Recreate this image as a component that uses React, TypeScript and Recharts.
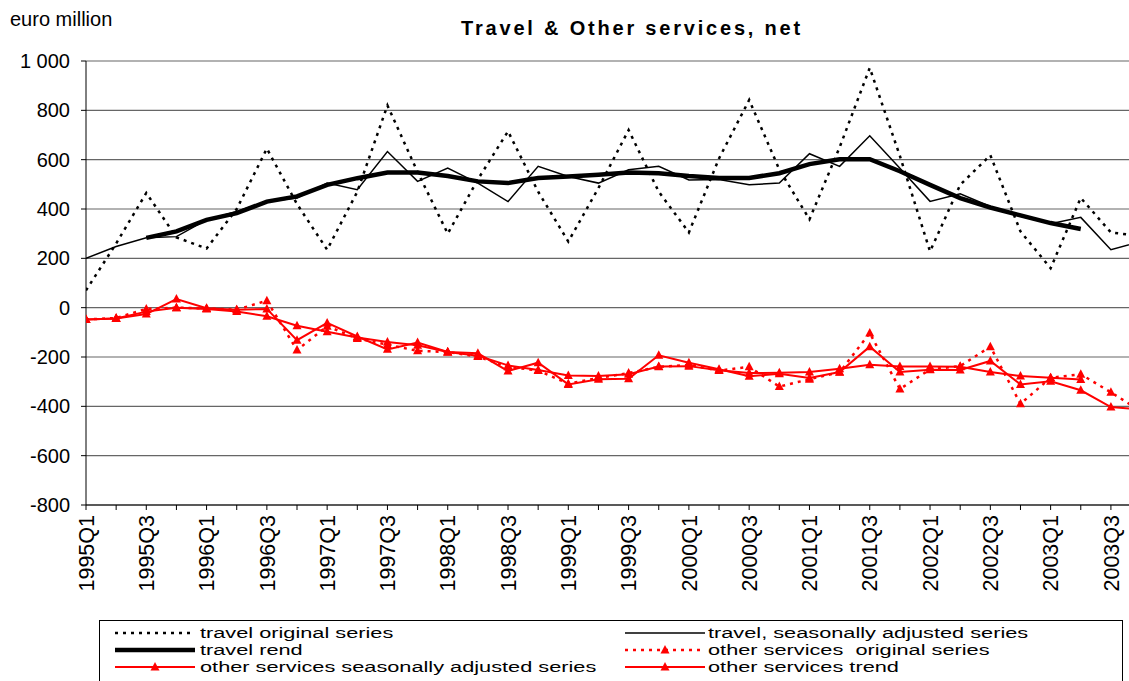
import { LineChart, Line, XAxis, YAxis, CartesianGrid } from 'recharts';

const quarters = [
  '1995Q1', '1995Q2', '1995Q3', '1995Q4', '1996Q1', '1996Q2', '1996Q3', '1996Q4',
  '1997Q1', '1997Q2', '1997Q3', '1997Q4', '1998Q1', '1998Q2', '1998Q3', '1998Q4',
  '1999Q1', '1999Q2', '1999Q3', '1999Q4', '2000Q1', '2000Q2', '2000Q3', '2000Q4',
  '2001Q1', '2001Q2', '2001Q3', '2001Q4', '2002Q1', '2002Q2', '2002Q3', '2002Q4',
  '2003Q1', '2003Q2', '2003Q3', '2003Q4',
];

const travelOriginal = [
  70, 260, 465, 285, 240, 400, 645, 420, 235, 470, 820, 550, 300, 520, 715, 470, 268, 485,
  720, 470, 305, 605, 842, 560, 358, 650, 972, 615, 228, 498, 618, 309, 160, 445, 305, 290,
];
const travelSA = [
  200, 248, 283, 288, 356, 390, 430, 445, 505, 478, 633, 512, 566, 505, 430, 573, 532, 505,
  559, 573, 518, 520, 498, 505, 624, 573, 697, 565, 431, 462, 410, 370, 340, 366, 235, 268,
];
const travelTrend = [
  null, null, 283, 309, 356, 383, 430, 451, 498, 525, 548, 548, 534, 512, 505, 526, 532, 539,
  548, 545, 534, 526, 526, 545, 582, 602, 602, 553, 498, 444, 406, 374, 343, 319, null, null,
];
const otherOriginal = [
  -48, -42, -5, 0, -3, -8, 28, -172, -75, -125, -150, -175, -180, -198, -240, -255, -308, -285,
  -265, -240, -232, -255, -240, -320, -290, -262, -103, -330, -250, -237, -158, -390, -284, -270,
  -343, -420,
];
const otherSA = [
  -48, -44, -26, 35, -2, -8, -5, -132, -62, -117, -169, -141, -180, -185, -257, -223, -311, -290,
  -288, -193, -223, -250, -278, -268, -285, -261, -158, -261, -252, -253, -216, -311, -298, -335,
  -403, -412,
];
const otherTrend = [
  -48, -44, -16, 0, -5, -16, -35, -73, -98, -121, -139, -152, -180, -195, -234, -253, -275, -277,
  -270, -239, -237, -254, -265, -264, -261, -248, -231, -239, -239, -240, -261, -277, -284, -291,
  null, null,
];

const yTicks = [-800, -600, -400, -200, 0, 200, 400, 600, 800, 1000];
const xTicks = quarters.slice(0, 35).map((_, i) => i);

const data = quarters.map((q, i) => ({
  i,
  q,
  travelOriginal: travelOriginal[i],
  travelSA: travelSA[i],
  travelTrend: travelTrend[i],
  otherOriginal: otherOriginal[i],
  otherSA: otherSA[i],
  otherTrend: otherTrend[i],
}));

const FONT = 'Arial, "Liberation Sans", sans-serif';
const RED = '#ff0000';

const triPath = (cx: number, cy: number) =>
  `M${cx},${cy - 5}L${cx + 4.5},${cy + 3.5}L${cx - 4.5},${cy + 3.5}Z`;

const TriangleDot = (props: any) => {
  const { cx, cy, index, dataKey } = props;
  const key = `${dataKey}-${index}`;
  if (cx == null || cy == null) return <g key={key} />;
  return <path key={key} d={triPath(cx, cy)} fill={RED} />;
};

const QuarterTick = ({ x, y, payload }: any) => {
  const idx = payload.value;
  if (idx % 2 !== 0) return <g />;
  return (
    <text
      x={x}
      y={y}
      transform={`rotate(-90 ${x} ${y})`}
      textAnchor="end"
      dy="0.36em"
      fontSize={21.5}
      fontFamily={FONT}
      fill="#000"
    >
      {quarters[idx]}
    </text>
  );
};

const legendLeft = [
  { label: 'travel original series', color: '#000', width: 2.5, dash: '3 5', tri: false },
  { label: 'travel rend', color: '#000', width: 4.5, dash: undefined, tri: false },
  { label: 'other services seasonally adjusted series', color: RED, width: 2, dash: undefined, tri: true },
];
const legendRight = [
  { label: 'travel, seasonally adjusted series', color: '#000', width: 1.5, dash: undefined, tri: false },
  { label: 'other services  original series', color: RED, width: 2.5, dash: '3 5', tri: true },
  { label: 'other services trend', color: RED, width: 2, dash: undefined, tri: true },
];

// legend text in the source is stretched sideways; small font scaled in x
const LegendBox = () => {
  const rows = [633, 650, 667];
  const col = (items: typeof legendLeft, x0: number, x1: number, tx: number) =>
    items.map((it, k) => (
      <g key={it.label}>
        <line
          x1={x0}
          x2={x1}
          y1={rows[k]}
          y2={rows[k]}
          stroke={it.color}
          strokeWidth={it.width}
          strokeDasharray={it.dash}
        />
        {it.tri && <path d={triPath((x0 + x1) / 2, rows[k])} fill={RED} />}
        <text
          transform={`translate(${tx} ${rows[k]}) scale(1.45 1)`}
          x={0}
          y={0}
          dy="0.36em"
          fontSize={15}
          fontFamily={FONT}
          fill="#000"
          style={{ whiteSpace: 'pre' }}
        >
          {it.label}
        </text>
      </g>
    ));
  return (
    <svg
      width={1129}
      height={681}
      style={{ position: 'absolute', left: 0, top: 0, pointerEvents: 'none' }}
    >
      <rect x={99.5} y={620.5} width={1023} height={80} fill="none" stroke="#000" strokeWidth={1} />
      {col(legendLeft, 115, 195, 200)}
      {col(legendRight, 625, 705, 708)}
    </svg>
  );
};

export default function App() {
  return (
    <div
      style={{
        position: 'absolute',
        left: 0,
        top: 0,
        width: 1129,
        height: 681,
        background: '#fff',
        overflow: 'hidden',
        fontFamily: FONT,
      }}
    >
      <div style={{ position: 'absolute', left: 10, top: 9, fontSize: 20, lineHeight: '20px' }}>
        euro million
      </div>
      <div
        style={{
          position: 'absolute',
          left: 632,
          top: 17,
          transform: 'translateX(-50%)',
          whiteSpace: 'nowrap',
          fontSize: 20,
          lineHeight: '22px',
          fontWeight: 'bold',
          letterSpacing: 2.8,
        }}
      >
        Travel &amp; Other services, net
      </div>
      <LineChart
        width={1129}
        height={620}
        data={data}
        margin={{ top: 61, right: 0, bottom: 0, left: 0 }}
        style={{ position: 'absolute', left: 0, top: 0 }}
      >
        <CartesianGrid vertical={false} stroke="#666" strokeWidth={1.2} />
        <XAxis
          type="number"
          dataKey="i"
          domain={[0, 34.6]}
          allowDataOverflow
          ticks={xTicks}
          interval={0}
          height={115}
          tickSize={5}
          tickMargin={5}
          stroke="#000"
          tick={<QuarterTick />}
        />
        <YAxis
          type="number"
          domain={[-800, 1000]}
          ticks={yTicks}
          interval={0}
          width={86}
          tickSize={5}
          tickMargin={11}
          stroke="#000"
          tick={{ fontSize: 20, fill: '#000', fontFamily: FONT }}
          tickFormatter={(v: number) => (v === 1000 ? '1 000' : String(v))}
        />
        <Line
          dataKey="travelOriginal"
          stroke="#000"
          strokeWidth={2.5}
          strokeDasharray="3 5"
          dot={false}
          isAnimationActive={false}
        />
        <Line dataKey="travelSA" stroke="#000" strokeWidth={1.5} dot={false} isAnimationActive={false} />
        <Line dataKey="travelTrend" stroke="#000" strokeWidth={4.5} dot={false} isAnimationActive={false} />
        <Line
          dataKey="otherOriginal"
          stroke={RED}
          strokeWidth={2.5}
          strokeDasharray="3 5"
          dot={TriangleDot}
          isAnimationActive={false}
        />
        <Line dataKey="otherSA" stroke={RED} strokeWidth={2} dot={TriangleDot} isAnimationActive={false} />
        <Line dataKey="otherTrend" stroke={RED} strokeWidth={2} dot={TriangleDot} isAnimationActive={false} />
      </LineChart>
      <LegendBox />
    </div>
  );
}
